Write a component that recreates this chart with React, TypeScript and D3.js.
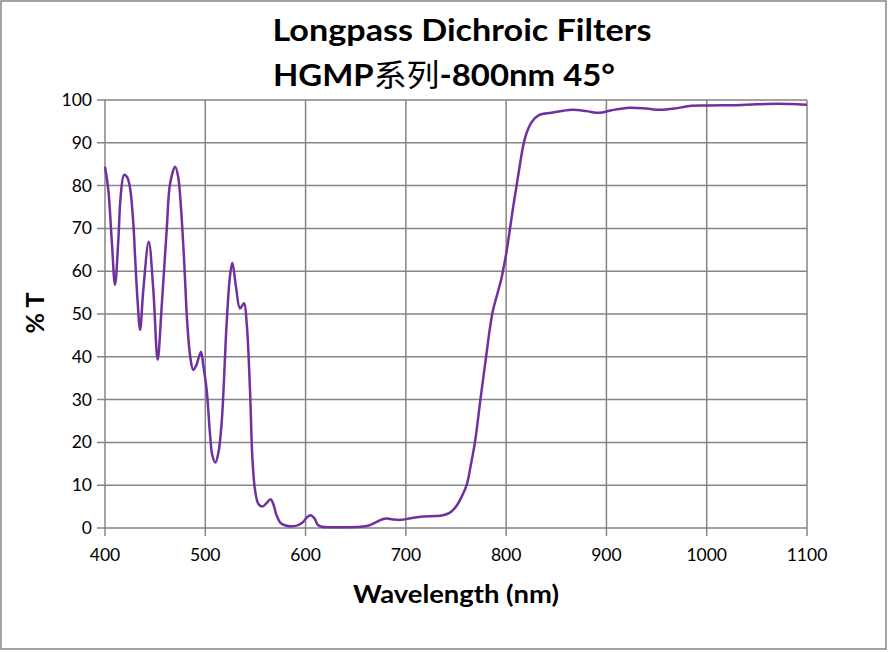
import { useEffect, useRef } from 'react'
import * as d3 from 'd3'

// wavelength (nm) and transmission (%)
const wavelengths = [
  400, 403.3, 406.7, 410, 413.3, 415.6, 419, 422, 425, 428.3, 430, 432.5, 435,
  438.2, 443.6, 448.2, 452.5, 456.5, 461.5, 465, 470, 473, 476, 479, 482, 485,
  488, 491, 495.7, 498, 501.4, 504.7, 507, 510, 513, 516.3, 521.3, 524.6, 527,
  530.6, 534.6, 538.6, 541.3, 544.6, 546.9, 549.6, 553, 557, 561, 565, 568, 571,
  575, 580, 590, 597, 601, 605, 609, 612, 616, 630, 655, 663, 670, 676, 681, 687,
  695, 705, 717, 730, 737, 744, 750, 756, 760.6, 765, 769, 774.5, 780, 784, 787,
  791, 795, 797, 800, 804, 807, 810.5, 813.8, 817, 820.4, 825.4, 833, 845, 857, 867,
  880, 893, 905, 923, 940, 953, 968, 983, 1000, 1026, 1050, 1070, 1090, 1100,
]
const transmission = [
  84.4, 79, 67.3, 56.8, 67.3, 77.4, 82.5, 82, 79.4, 71, 63.4, 53, 46.3,
  55.6, 66.9, 55.6, 39.3, 51.7, 69.6, 80.6, 84.4, 82, 74, 62, 48, 40,
  36.9, 38, 41.2, 38, 32.2, 22, 17, 15.3, 17.5, 24.5, 47.8, 58.8, 62,
  56.4, 51.3, 52.5, 47.8, 32.2, 16.7, 8.9, 5.6, 5.0, 5.8, 6.7, 5.5, 3,
  1.2, 0.6, 0.5, 1.3, 2.4, 3.0, 2.2, 0.8, 0.3, 0.2, 0.3, 0.6, 1.3, 2.0, 2.2, 2.0,
  1.9, 2.3, 2.7, 2.8, 3.0, 3.6, 5.0, 7.5, 10, 15, 20.2, 30.3, 40, 47, 51,
  54.5, 58, 60.3, 64, 70.2, 75, 80.1, 85, 89.3, 92.3, 94.8, 96.5, 97, 97.5, 97.7,
  97.4, 97.0, 97.6, 98.2, 98, 97.7, 98, 98.6, 98.7, 98.8, 99, 99.1, 99, 98.9,
]
const xTicks = [400, 500, 600, 700, 800, 900, 1000, 1100]
const yTicks = [0, 10, 20, 30, 40, 50, 60, 70, 80, 90, 100]

const titleLine1 = 'Longpass Dichroic Filters'
const titleLine2 = ['HGMP', '系列', '-800nm 45°']
const xTitle = 'Wavelength (nm)'
const yTitle = '% T'

const W = 888
const H = 652
const FONT = 'Lato, "Noto Sans", "Noto Sans CJK SC", sans-serif'

export default function App() {
  const svgRef = useRef<SVGSVGElement>(null)

  useEffect(() => {
    if (!svgRef.current) return
    const svg = d3.select(svgRef.current)
    svg.selectAll('*').remove()

    const x = d3.scaleLinear().domain([400, 1100]).range([105, 807])
    const y = d3.scaleLinear().domain([0, 100]).range([528, 100])
    const grid = '#858585'

    // outer frame
    svg.append('rect')
      .attr('x', 1).attr('y', 1).attr('width', W - 3).attr('height', H - 4)
      .attr('fill', '#fff').attr('stroke', grid).attr('stroke-width', 1.5)

    // gridlines (extended past the axes as tick marks)
    svg.append('g').selectAll('line').data(yTicks).enter().append('line')
      .attr('x1', 97).attr('x2', x(1100))
      .attr('y1', d => y(d)).attr('y2', d => y(d))
      .attr('stroke', grid).attr('stroke-width', 1.5)
    svg.append('g').selectAll('line').data(xTicks).enter().append('line')
      .attr('x1', d => x(d)).attr('x2', d => x(d))
      .attr('y1', y(100)).attr('y2', y(0) + 8)
      .attr('stroke', grid).attr('stroke-width', 1.5)

    // tick labels
    svg.append('g').selectAll('text').data(yTicks).enter().append('text')
      .attr('x', 92).attr('y', d => y(d) + 6)
      .attr('text-anchor', 'end')
      .attr('font-family', FONT).attr('font-size', 17.5).attr('fill', '#000')
      .text(d => d)
    svg.append('g').selectAll('text').data(xTicks).enter().append('text')
      .attr('x', d => x(d)).attr('y', 561)
      .attr('text-anchor', 'middle')
      .attr('font-family', FONT).attr('font-size', 17.5).attr('fill', '#000')
      .text(d => d)

    // curve
    const line = d3.line<number>()
      .x(i => x(wavelengths[i]))
      .y(i => y(transmission[i]))
      .curve(d3.curveCatmullRom.alpha(0.5))
    svg.append('path')
      .datum(d3.range(wavelengths.length))
      .attr('d', line)
      .attr('fill', 'none')
      .attr('stroke', '#7030a0')
      .attr('stroke-width', 2.5)
      .attr('stroke-linejoin', 'round')

    // titles
    svg.append('text')
      .attr('x', 462).attr('y', 41)
      .attr('text-anchor', 'middle')
      .attr('font-family', FONT).attr('font-weight', 'bold').attr('font-size', 31)
      .attr('textLength', 379).attr('lengthAdjust', 'spacingAndGlyphs')
      .text(titleLine1)
    const t2 = svg.append('text')
      .attr('x', 444).attr('y', 86)
      .attr('text-anchor', 'middle')
      .attr('font-family', FONT).attr('font-weight', 'bold').attr('font-size', 31)
      .attr('textLength', 342).attr('lengthAdjust', 'spacingAndGlyphs')
    t2.append('tspan').text(titleLine2[0])
    t2.append('tspan')
      .attr('font-family', '"Noto Sans CJK SC", sans-serif')
      .attr('font-weight', 'normal')
      .text(titleLine2[1])
    t2.append('tspan').text(titleLine2[2])

    svg.append('text')
      .attr('x', 456).attr('y', 603)
      .attr('text-anchor', 'middle')
      .attr('font-family', FONT).attr('font-weight', 'bold').attr('font-size', 25)
      .attr('textLength', 206).attr('lengthAdjust', 'spacingAndGlyphs')
      .text(xTitle)
    svg.append('text')
      .attr('transform', 'translate(44,313) rotate(-90)')
      .attr('text-anchor', 'middle')
      .attr('font-family', FONT).attr('font-weight', 'bold').attr('font-size', 25)
      .text(yTitle)
  }, [])

  return (
    <svg
      ref={svgRef}
      width={W}
      height={H}
      style={{ position: 'absolute', left: 0, top: 0, background: '#fff' }}
    />
  )
}
